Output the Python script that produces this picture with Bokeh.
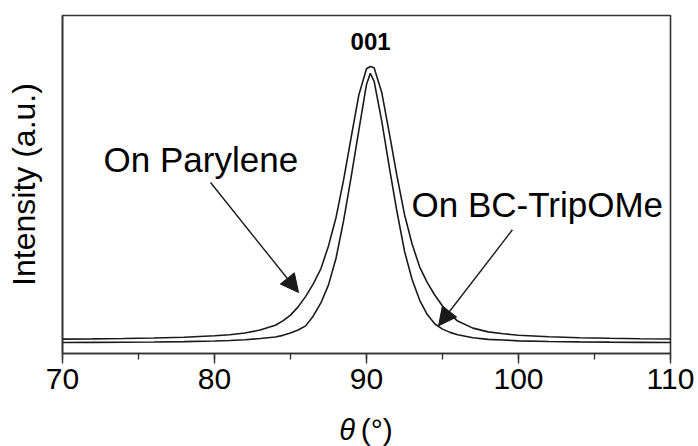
from bokeh.plotting import figure
from bokeh.layouts import column
from bokeh.models import (Range1d, SingleIntervalTicker, FixedTicker, Label,
                          Arrow, NormalHead, ColumnDataSource)
from bokeh.core.properties import value
from bokeh.embed import file_html
from bokeh.resources import INLINE

# Rocking-curve scan of the (001) reflection, theta in degrees
theta = [70, 72, 74, 76, 78, 80, 81, 82, 83, 84, 84.5, 85, 85.5, 86, 86.5,
         87, 87.5, 88, 88.5, 89, 89.5, 90, 90.25, 90.5, 91, 91.5, 92, 92.5,
         93, 93.5, 94, 94.5, 95, 95.5, 96, 97, 98, 99, 100, 102, 104, 106,
         108, 110]

# Intensity (a.u.) of the film grown on parylene
on_parylene = [4.26, 4.32, 4.42, 4.57, 4.81, 5.24, 5.56, 6.05, 6.95, 8.34,
               9.64, 11.36, 13.80, 16.90, 20.58, 25.07, 31.84, 40.33, 51.50,
               64.15, 76.56, 84.23, 84.90, 84.56, 77.30, 65.20, 52.60, 41.14,
               32.41, 25.56, 20.99, 17.23, 14.05, 11.60, 9.60, 7.50, 6.40,
               5.85, 5.40, 4.95, 4.67, 4.49, 4.37, 4.29]

# Intensity (a.u.) of the film grown on BC-TripOMe
on_bc_tripome = [3.25, 3.28, 3.34, 3.41, 3.52, 3.68, 3.86, 4.06, 4.42, 4.86,
                 5.37, 6.09, 6.97, 8.17, 11.12, 14.95, 20.30, 28.28, 39.45,
                 52.46, 66.18, 79.60, 82.90, 80.60, 68.82, 55.17, 42.08,
                 30.27, 21.89, 15.75, 11.52, 8.73, 7.21, 6.25, 5.53, 4.66,
                 4.18, 3.98, 3.74, 3.56, 3.44, 3.36, 3.30, 3.26]

series_labels = ["On Parylene", "On BC-TripOMe"]
peak_label = "001"
x_title_symbol = "\u03b8"
x_title_unit = "(\u00b0)"
y_title = "Intensity (a.u.)"

FONT = "Liberation Sans"
INK = "#1a1a1a"
FRAME = "#333333"

x_range = Range1d(70, 110)

p = figure(width=698, height=410,
           x_range=x_range, y_range=Range1d(0, 100),
           output_backend="svg", toolbar_location=None,
           min_border_left=62, min_border_right=28,
           min_border_top=15, min_border_bottom=57)

p.background_fill_color = "white"
p.border_fill_color = "white"
p.outline_line_color = FRAME
p.outline_line_width = 1.6
p.xgrid.visible = False
p.ygrid.visible = False

# x axis: majors every 10 degrees, one minor tick in between
xa = p.xaxis[0]
xa.ticker = SingleIntervalTicker(interval=10, num_minor_ticks=2)
xa.axis_line_color = FRAME
xa.axis_line_width = 1.6
xa.major_tick_line_color = FRAME
xa.major_tick_line_width = 1.4
xa.minor_tick_line_color = FRAME
xa.minor_tick_line_width = 1.4
xa.major_tick_in = 0
xa.major_tick_out = 10
xa.minor_tick_in = 0
xa.minor_tick_out = 6
xa.major_label_text_font = FONT
xa.major_label_text_font_size = "30px"
xa.major_label_text_color = "black"
xa.major_label_standoff = 5

# y axis: label only, no ticks
ya = p.yaxis[0]
ya.ticker = FixedTicker(ticks=[])
ya.major_tick_out = 0
ya.major_tick_in = 0
ya.minor_tick_out = 0
ya.minor_tick_in = 0
ya.axis_line_color = FRAME
ya.axis_line_width = 1.6
ya.axis_label = y_title
ya.axis_label_text_font = FONT
ya.axis_label_text_font_size = "32px"
ya.axis_label_text_font_style = "normal"
ya.axis_label_text_color = "black"
ya.axis_label_standoff = 21

src = ColumnDataSource(dict(theta=theta, par=on_parylene, bc=on_bc_tripome))
p.line("theta", "par", source=src, line_color=INK, line_width=1.6)
p.line("theta", "bc", source=src, line_color=INK, line_width=1.6)

# peak index
p.add_layout(Label(x=90.27, y=92.3, text=peak_label, text_font=FONT,
                   text_font_size="24px", text_font_style="bold",
                   text_align="center", text_baseline="middle",
                   text_color="black"))

# curve annotations with arrows
p.add_layout(Label(x=72.7, y=57.5, text=series_labels[0], text_font=FONT,
                   text_font_size="35px", text_align="left",
                   text_baseline="alphabetic", text_color="black"))
p.add_layout(Label(x=92.96, y=44.0, text=series_labels[1], text_font=FONT,
                   text_font_size="35px", text_align="left",
                   text_baseline="alphabetic", text_color="black"))

for xs, ys, xe, ye in [(79.74, 50.6, 85.53, 18.05), (99.6, 36.6, 94.74, 8.2)]:
    p.add_layout(Arrow(x_start=xs, y_start=ys, x_end=xe, y_end=ye,
                       line_color=INK, line_width=1.4,
                       end=NormalHead(size=18, fill_color=INK,
                                      line_color=INK, line_width=1)))

# strip under the axis carrying the x title: italic theta, upright unit
t = figure(width=698, height=36, x_range=x_range, y_range=Range1d(0, 1),
           output_backend="svg", toolbar_location=None,
           x_axis_type=None, y_axis_type=None,
           min_border_left=62, min_border_right=28,
           min_border_top=0, min_border_bottom=0)
t.outline_line_color = None
t.xgrid.visible = False
t.ygrid.visible = False
t.text(x=[88.72], y=[0.47], text=[x_title_symbol], text_font=value(FONT),
       text_font_size="29px", text_font_style="italic",
       text_align="center", text_baseline="middle", text_color="black")
t.text(x=[90.68], y=[0.47], text=[x_title_unit], text_font=value(FONT),
       text_font_size="30px", text_align="center",
       text_baseline="middle", text_color="black")

open("out.html", "w").write(file_html(column(p, t), INLINE))
